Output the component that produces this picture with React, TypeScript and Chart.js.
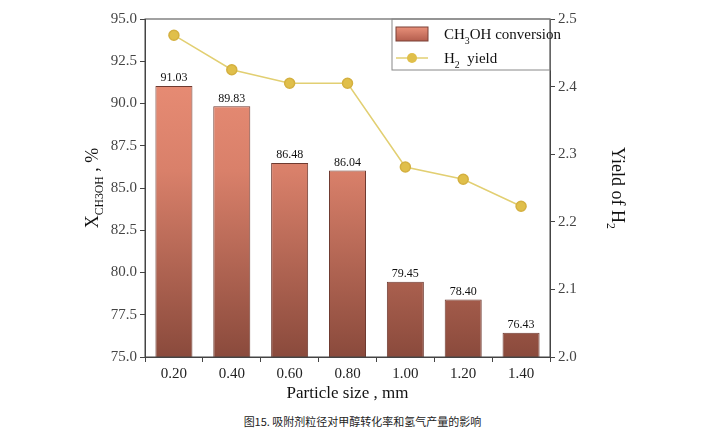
import React, { useEffect, useRef } from "react";
import { Chart, registerables } from "chart.js";
Chart.register(...registerables);

const categories = ["0.20", "0.40", "0.60", "0.80", "1.00", "1.20", "1.40"];
const conversion = [91.03, 89.83, 86.48, 86.04, 79.45, 78.4, 76.43];
const h2Yield = [2.476, 2.425, 2.405, 2.405, 2.281, 2.263, 2.223];

const FONT = "'Liberation Serif', 'Times New Roman', serif";

function sub(ctx: CanvasRenderingContext2D, parts: [string, boolean][], x: number, y: number, size: number) {
  let cx = x;
  for (const [t, s] of parts) {
    ctx.font = `${s ? size * 0.65 : size}px ${FONT}`;
    ctx.fillText(t, cx, s ? y + size * 0.3 : y);
    cx += ctx.measureText(t).width;
  }
  return cx;
}
function subWidth(ctx: CanvasRenderingContext2D, parts: [string, boolean][], size: number) {
  let w = 0;
  for (const [t, s] of parts) {
    ctx.font = `${s ? size * 0.65 : size}px ${FONT}`;
    w += ctx.measureText(t).width;
  }
  return w;
}

const decor = {
  id: "decor",
  afterDatasetsDraw(chart: any) {
    const ctx = chart.ctx as CanvasRenderingContext2D;
    const a = chart.chartArea;
    ctx.save();
    // frame
    ctx.strokeStyle = "#444";
    ctx.lineWidth = 1;
    ctx.strokeRect(a.left, a.top, a.right - a.left, a.bottom - a.top);
    // bar labels
    const meta = chart.getDatasetMeta(0);
    ctx.fillStyle = "#111";
    ctx.font = `12px ${FONT}`;
    ctx.textAlign = "center";
    ctx.textBaseline = "bottom";
    meta.data.forEach((b: any, i: number) => {
      ctx.fillText(conversion[i].toFixed(2), b.x, b.y - 2);
    });
    // legend
    const lx = 392, ly = 19;
    ctx.strokeStyle = "#888";
    ctx.strokeRect(lx, ly, a.right - lx, 51);
    const g = ctx.createLinearGradient(0, ly + 8, 0, ly + 23);
    g.addColorStop(0, "#e8907a");
    g.addColorStop(1, "#b05a4a");
    ctx.fillStyle = g;
    ctx.fillRect(lx + 4, ly + 8, 32, 14);
    ctx.strokeStyle = "#7a4036";
    ctx.strokeRect(lx + 4, ly + 8, 32, 14);
    ctx.textAlign = "left";
    ctx.textBaseline = "alphabetic";
    ctx.fillStyle = "#111";
    sub(ctx, [["CH", false], ["3", true], ["OH conversion", false]], lx + 52, ly + 20, 15);
    ctx.strokeStyle = "#e2cf72";
    ctx.lineWidth = 1.5;
    ctx.beginPath();
    ctx.moveTo(lx + 4, ly + 39);
    ctx.lineTo(lx + 36, ly + 39);
    ctx.stroke();
    ctx.fillStyle = "#e0bf4a";
    ctx.beginPath();
    ctx.arc(lx + 20, ly + 39, 5, 0, Math.PI * 2);
    ctx.fill();
    ctx.fillStyle = "#111";
    sub(ctx, [["H", false], ["2", true], ["  yield", false]], lx + 52, ly + 44, 15);
    // axis titles
    ctx.fillStyle = "#111";
    ctx.font = `17px ${FONT}`;
    ctx.textAlign = "center";
    ctx.fillText("Particle size , mm", (a.left + a.right) / 2, 398);
    // left title
    ctx.save();
    ctx.translate(98, (a.top + a.bottom) / 2);
    ctx.rotate(-Math.PI / 2);
    ctx.textAlign = "left";
    const lp: [string, boolean][] = [["X", false], ["CH3OH", true], [" , %", false]];
    const lw = subWidth(ctx, lp, 18);
    sub(ctx, lp, -lw / 2, 0, 18);
    ctx.restore();
    // right title
    ctx.save();
    ctx.translate(612, (a.top + a.bottom) / 2);
    ctx.rotate(Math.PI / 2);
    ctx.textAlign = "left";
    const rp: [string, boolean][] = [["Yield of H", false], ["2", true]];
    const rw = subWidth(ctx, rp, 18);
    sub(ctx, rp, -rw / 2, 0, 18);
    ctx.restore();
    ctx.restore();
  },
};

export default function App() {
  const ref = useRef<HTMLCanvasElement>(null);
  useEffect(() => {
    const c = new Chart(ref.current!, {
      type: "bar",
      data: {
        labels: categories,
        datasets: [
          {
            type: "bar",
            data: conversion,
            yAxisID: "y",
            backgroundColor: (ctx: any) => {
              const area = ctx.chart.chartArea;
              if (!area) return "#d07060";
              const g = ctx.chart.ctx.createLinearGradient(0, area.top, 0, area.bottom);
              g.addColorStop(0, "#f0937a");
              g.addColorStop(0.45, "#d9806a");
              g.addColorStop(1, "#8a4a3c");
              return g;
            },
            borderColor: "#6e3a30",
            borderWidth: 1,
            barPercentage: 0.64,
            categoryPercentage: 1,
            order: 2,
          } as any,
          {
            type: "line",
            data: h2Yield,
            yAxisID: "y1",
            borderColor: "#e2cf72",
            borderWidth: 1.5,
            pointRadius: 5,
            pointBackgroundColor: "#e0bf4a",
            pointBorderColor: "#d4b040",
            order: 1,
          } as any,
        ],
      },
      options: {
        animation: false,
        responsive: false,
        layout: { padding: { top: 19, bottom: 0, left: 0, right: 0 } },
        plugins: { legend: { display: false }, tooltip: { enabled: false } },
        scales: {
          x: {
            grid: { drawOnChartArea: false, tickLength: 5, color: "#444" },
            border: { color: "#444" },
            ticks: { color: "#222", font: { family: FONT, size: 15 } },
            afterFit: (s: any) => { s.height = 48; },
          },
          y: {
            min: 75, max: 95,
            ticks: { stepSize: 2.5, color: "#444", font: { family: FONT, size: 15 }, callback: (v: any) => Number(v).toFixed(1) },
            grid: { drawOnChartArea: false, tickLength: 5, color: "#444" },
            border: { color: "#444" },
            afterFit: (s: any) => { s.width = 145; },
          },
          y1: {
            position: "right",
            min: 2.0, max: 2.5,
            ticks: { stepSize: 0.1, color: "#444", font: { family: FONT, size: 15 }, callback: (v: any) => Number(v).toFixed(1) },
            grid: { drawOnChartArea: false, tickLength: 5, color: "#444" },
            border: { color: "#444" },
            afterFit: (s: any) => { s.width = 175; },
          },
        },
      },
      plugins: [decor],
    });
    return () => c.destroy();
  }, []);
  return (
    <div style={{ position: "absolute", left: 0, top: 0, width: 725, height: 436, background: "#fff" }}>
      <canvas ref={ref} width={725} height={405} style={{ display: "block" }} />
      <div style={{ textAlign: "center", fontFamily: "'Noto Sans CJK SC', sans-serif", fontSize: 11, color: "#222", marginTop: 8 }}>
        图15. 吸附剂粒径对甲醇转化率和氢气产量的影响
      </div>
    </div>
  );
}
